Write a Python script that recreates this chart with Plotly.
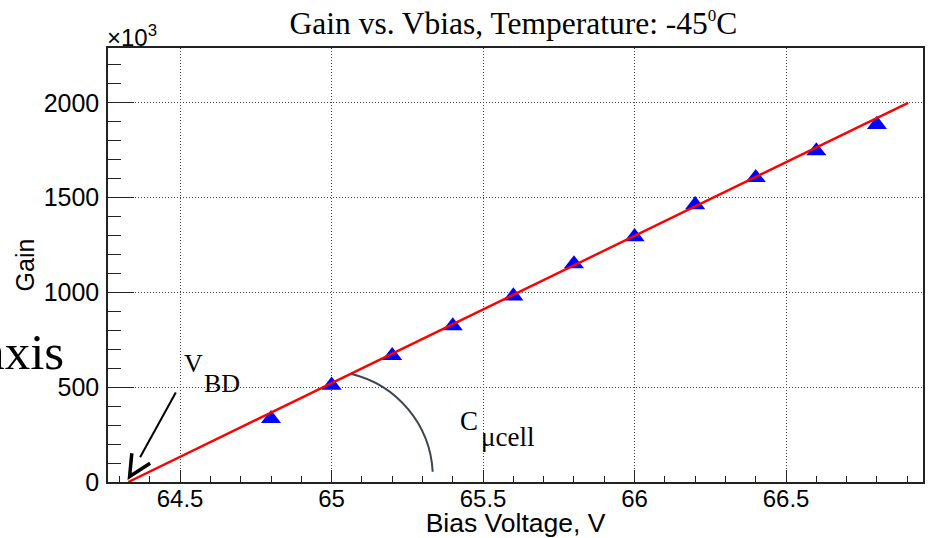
import math
import plotly.graph_objects as go

# ---- data ----
bias_v = [64.8, 65.0, 65.2, 65.4, 65.6, 65.8, 66.0, 66.2, 66.4, 66.6, 66.8]
gain_k = [334, 510, 666, 823, 981, 1150, 1293, 1462, 1605, 1746, 1885]   # Gain / 10^3
fit_v = [64.329, 66.903]
fit_gain_k = [0, 2000]
x_tickvals = [64.5, 65.0, 65.5, 66.0, 66.5]
x_ticktext = ["64.5", "65", "65.5", "66", "66.5"]
y_tickvals = [0, 500, 1000, 1500, 2000]
y_ticktext = ["0", "500", "1000", "1500", "2000"]

X_RANGE = [64.262, 66.952]
Y_RANGE = [0, 2289]

SANS = "Liberation Sans"
SERIF = "Liberation Serif"

fig = go.Figure()
fig.add_trace(go.Scatter(
    x=bias_v, y=gain_k, mode="markers",
    marker=dict(symbol="triangle-up", size=17.5, color="#0000ff", line=dict(width=0)),
    showlegend=False, cliponaxis=False))
fig.add_trace(go.Scatter(
    x=fit_v, y=fit_gain_k, mode="lines",
    line=dict(color="#ff0000", width=2.4), showlegend=False))

# ---- decorations: V_BD arrow ----
arrow_shaft = dict(x0=64.4858, y0=471.6, x1=64.368, y1=130.4)
arrow_head = [(64.3406, 151.6), (64.3333, 29.0), (64.401, 98.8)]
shapes = []
shapes.append(dict(type="line", xref="x", yref="y", **arrow_shaft,
                   line=dict(color="black", width=2)))
head_path = "M {},{} L {},{} L {},{}".format(*[v for p in arrow_head for v in p])
shapes.append(dict(type="path", xref="x", yref="y", path=head_path,
                   line=dict(color="black", width=3.5)))

# ---- decorations: C_ucell arc (circular on screen) ----
ARC_CX, ARC_CY = 64.983, 24.0
ARC_RX, ARC_RY = 0.3512, 562.0
ARC_T0, ARC_T1 = math.radians(3.1), math.radians(76.3)
k = 4.0 / 3.0 * math.tan((ARC_T1 - ARC_T0) / 4.0)
p0 = (ARC_CX + ARC_RX * math.cos(ARC_T0), ARC_CY + ARC_RY * math.sin(ARC_T0))
p3 = (ARC_CX + ARC_RX * math.cos(ARC_T1), ARC_CY + ARC_RY * math.sin(ARC_T1))
p1 = (p0[0] - k * ARC_RX * math.sin(ARC_T0), p0[1] + k * ARC_RY * math.cos(ARC_T0))
p2 = (p3[0] + k * ARC_RX * math.sin(ARC_T1), p3[1] - k * ARC_RY * math.cos(ARC_T1))
arc_path = "M {},{} C {},{} {},{} {},{}".format(*p0, *p1, *p2, *p3)
shapes.append(dict(type="path", xref="x", yref="y", path=arc_path,
                   line=dict(color="#3b4650", width=2)))

annotations = [
    dict(text="V", x=64.5429, y=623, xref="x", yref="y", showarrow=False,
         font=dict(family=SERIF, size=26, color="black"), xanchor="center", yanchor="middle"),
    dict(text="BD", x=64.6386, y=517, xref="x", yref="y", showarrow=False,
         font=dict(family=SERIF, size=26, color="black"), xanchor="center", yanchor="middle"),
    dict(text="C", x=65.452, y=322, xref="x", yref="y", showarrow=False,
         font=dict(family=SERIF, size=27, color="black"), xanchor="center", yanchor="middle"),
    dict(text="μcell", x=65.581, y=238, xref="x", yref="y", showarrow=False,
         font=dict(family=SERIF, size=27, color="black"), xanchor="center", yanchor="middle"),
    dict(text="axis", x=-0.0515, y=0.2995, xref="paper", yref="paper", showarrow=False,
         font=dict(family=SERIF, size=51, color="black"), xanchor="right", yanchor="middle"),
    dict(text="×10<sup>3</sup>", x=-0.004, y=0.988, xref="paper", yref="paper", showarrow=False,
         font=dict(family=SANS, size=24, color="black"), xanchor="left", yanchor="bottom"),
]

fig.update_layout(
    width=928, height=538,
    margin=dict(l=108, r=5, t=48, b=56),
    paper_bgcolor="white", plot_bgcolor="white",
    title=dict(text='Gain vs. Vbias, Temperature: -45<sup><span style="font-size:17px">0</span></sup>C',
               x=0.5533, xanchor="center", y=1 - 23 / 538, yanchor="middle",
               font=dict(family=SERIF, size=31.5, color="black")),
    shapes=shapes, annotations=annotations,
)
fig.update_xaxes(
    range=X_RANGE, tickvals=x_tickvals, ticktext=x_ticktext, automargin=False,
    ticks="inside", ticklen=12, tickwidth=1, tickcolor="#222",
    minor=dict(dtick=0.1, tick0=64.5, ticks="inside", ticklen=6, tickcolor="#222", showgrid=False),
    showgrid=True, gridcolor="#444", griddash="1px,2px", gridwidth=1,
    showline=True, linecolor="#222", linewidth=1.5, mirror=True, zeroline=False,
    tickfont=dict(family=SANS, size=24, color="black"), ticklabelstandoff=-6,
    title=dict(text="Bias Voltage, V", font=dict(family=SANS, size=26.5, color="black"), standoff=5),
)
fig.update_yaxes(
    range=Y_RANGE, tickvals=y_tickvals, ticktext=y_ticktext, automargin=False,
    ticks="inside", ticklen=26, tickwidth=1, tickcolor="#222",
    minor=dict(dtick=100, tick0=0, ticks="inside", ticklen=13, tickcolor="#222", showgrid=False),
    showgrid=True, gridcolor="#444", griddash="1px,2px", gridwidth=1,
    showline=True, linecolor="#222", linewidth=1.5, mirror=True, zeroline=False,
    tickfont=dict(family=SANS, size=25, color="black"), ticklabelstandoff=2,
    title=dict(text="Gain", font=dict(family=SANS, size=25, color="black"), standoff=2),
)

fig.write_html("out.html")
